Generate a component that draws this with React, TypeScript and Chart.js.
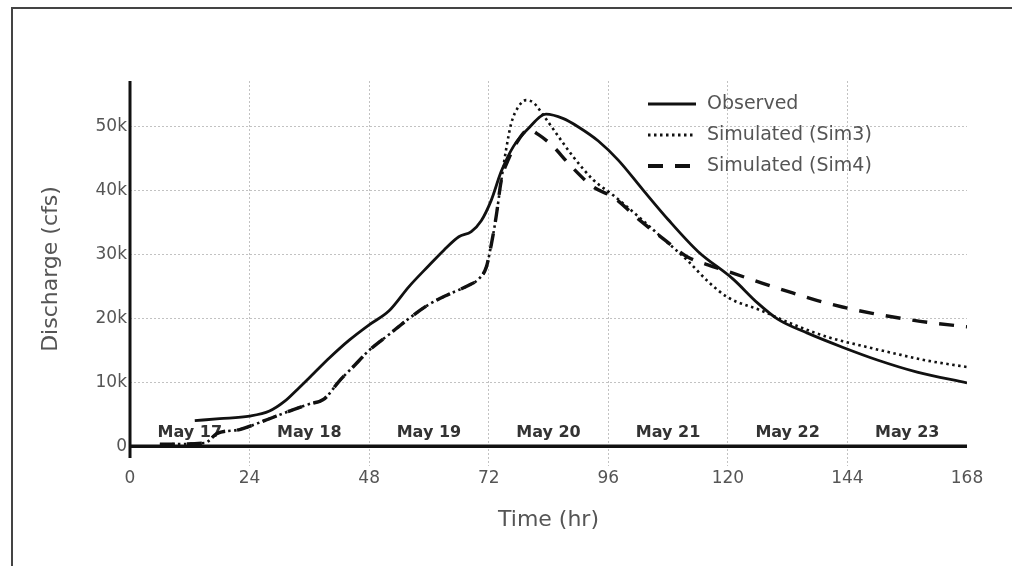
import React, { useEffect, useRef } from "react";
import { Chart, registerables } from "chart.js";

Chart.register(...registerables);

const FONT = "'DejaVu Sans', Verdana, sans-serif";

const xTicks = [0, 24, 48, 72, 96, 120, 144, 168];
const yTicks = [0, 10000, 20000, 30000, 40000, 50000];
const dayLabels = ["May 17", "May 18", "May 19", "May 20", "May 21", "May 22", "May 23"];
const dayCenters = [12, 36, 60, 84, 108, 132, 156];

const seriesNames = ["Observed", "Simulated (Sim3)", "Simulated (Sim4)"];

const obsTime = [13, 18, 24, 28, 31, 34, 37, 40, 44, 48, 52, 56, 60, 63, 66, 68.5, 70.5, 72.5, 74.5, 77, 80, 83.5, 87, 90, 94, 98, 103, 108, 114, 121, 126, 130, 136, 143, 150, 158, 168];
const obsFlow = [4000, 4300, 4700, 5500, 7000, 9200, 11500, 13800, 16600, 19000, 21200, 25000, 28300, 30700, 32800, 33600, 35300, 38500, 43000, 47000, 49800, 52000, 51300, 50000, 47800, 44800, 40100, 35500, 30500, 26200, 22400, 19900, 17700, 15500, 13500, 11600, 9900];

const sim3Time = [6, 15, 17.5, 22, 27, 32, 36, 39, 42, 45, 48, 52, 56, 60, 64, 68, 70, 71.5, 72.5, 73.5, 74.5, 75.5, 76.5, 78, 79.5, 81, 83, 86, 89, 93, 97, 102, 107, 112, 116, 120, 126.5, 133, 140, 147, 153, 160, 168];
const sim3Flow = [300, 500, 2000, 2600, 4000, 5500, 6600, 7400, 10200, 12600, 15000, 17500, 20000, 22200, 23800, 25200, 26200, 28000, 31500, 36000, 41500, 46500, 50500, 53200, 54200, 53800, 51800, 48500, 45300, 41700, 39300, 36000, 32500, 29000, 25800, 23300, 21300, 19100, 17100, 15700, 14600, 13400, 12400];

const sim4Time = [6, 15, 17.5, 22, 27, 32, 36, 39, 42, 45, 48, 52, 56, 60, 64, 68, 70, 71.5, 72.5, 73.5, 74.5, 76, 78, 80, 82, 85, 88, 93, 97, 102, 107, 112, 116, 121, 127, 133, 138, 143, 149, 155, 161, 168];
const sim4Flow = [300, 500, 2000, 2600, 4000, 5500, 6600, 7400, 10200, 12600, 15000, 17500, 20000, 22200, 23800, 25200, 26200, 28000, 31500, 36000, 41500, 45000, 48000, 49600, 48800, 46900, 44300, 40600, 39000, 35600, 32500, 29600, 28400, 27100, 25500, 24000, 22800, 21800, 20800, 20000, 19300, 18700];

const toPoints = (t: number[], v: number[]) => t.map((x, i) => ({ x, y: v[i] }));

const lineStyles = [
  { width: 2.8, dash: [] as number[] },
  { width: 2.6, dash: [2.5, 3.5] },
  { width: 3.4, dash: [15, 12] },
];

const decorPlugin = {
  id: "decor",
  beforeDatasetsDraw(chart: any) {
    const { ctx, chartArea, scales } = chart;
    const x = scales.x;
    const y = scales.y;
    const y0 = y.getPixelForValue(0);
    ctx.save();
    ctx.font = `bold 16px ${FONT}`;
    ctx.fillStyle = "#333";
    ctx.textAlign = "center";
    ctx.textBaseline = "middle";
    dayLabels.forEach((lab, i) => {
      ctx.fillText(lab, x.getPixelForValue(dayCenters[i]), y0 - 13);
    });
    ctx.strokeStyle = "#111";
    ctx.lineWidth = 3.5;
    ctx.setLineDash([]);
    ctx.beginPath();
    ctx.moveTo(chartArea.left, y0);
    ctx.lineTo(chartArea.right, y0);
    ctx.stroke();
    ctx.lineWidth = 3;
    ctx.beginPath();
    ctx.moveTo(chartArea.left, chartArea.top);
    ctx.lineTo(chartArea.left, chartArea.bottom + 1);
    ctx.stroke();
    ctx.restore();
  },
  afterDraw(chart: any) {
    const { ctx, chartArea } = chart;
    const x0 = chartArea.right - 319;
    const y0 = chartArea.top + 23;
    ctx.save();
    ctx.font = `19px ${FONT}`;
    ctx.textAlign = "left";
    ctx.textBaseline = "middle";
    seriesNames.forEach((name, i) => {
      const yy = y0 + i * 31;
      const st = lineStyles[i];
      ctx.strokeStyle = "#111";
      ctx.lineWidth = st.width + 0.4;
      ctx.setLineDash(st.dash);
      ctx.beginPath();
      ctx.moveTo(x0, yy);
      ctx.lineTo(x0 + 48, yy);
      ctx.stroke();
      ctx.setLineDash([]);
      ctx.fillStyle = "#555";
      ctx.fillText(name, x0 + 59, yy);
    });
    ctx.restore();
  },
};

export default function App() {
  const ref = useRef<HTMLCanvasElement | null>(null);

  useEffect(() => {
    document.body.style.margin = "0";
    const canvas = ref.current;
    if (!canvas) return;
    const datasets = [
      { label: seriesNames[0], data: toPoints(obsTime, obsFlow) },
      { label: seriesNames[1], data: toPoints(sim3Time, sim3Flow) },
      { label: seriesNames[2], data: toPoints(sim4Time, sim4Flow) },
    ].map((d, i) => ({
      ...d,
      borderColor: "#111",
      borderWidth: lineStyles[i].width,
      borderDash: lineStyles[i].dash,
      pointRadius: 0,
      fill: false,
      cubicInterpolationMode: "monotone" as const,
    }));

    const chart = new Chart(canvas, {
      type: "line",
      data: { datasets },
      plugins: [decorPlugin],
      options: {
        animation: false,
        responsive: false,
        layout: { padding: { top: 81, right: 45, bottom: 0, left: 0 } },
        plugins: { legend: { display: false }, tooltip: { enabled: false } },
        scales: {
          x: {
            type: "linear",
            min: 0,
            max: 168,
            afterBuildTicks: (s: any) => {
              s.ticks = xTicks.map((value) => ({ value }));
            },
            afterFit: (s: any) => {
              s.height = 109;
            },
            border: { display: false, dash: [2, 2] },
            grid: {
              color: (c: any) => (c.tick && (c.tick.value === 0 || c.tick.value === 168) ? "rgba(0,0,0,0)" : "#c2c2c2"),
              tickColor: (c: any) => (c.tick && (c.tick.value === 0 || c.tick.value === 168) ? "rgba(0,0,0,0)" : "#c2c2c2"),
              lineWidth: 1,
              drawTicks: true,
              tickLength: 9,
              tickBorderDash: [2, 2],
            },
            ticks: {
              color: "#555",
              font: { family: FONT, size: 17 },
              padding: 2,
              maxRotation: 0,
            },
            title: {
              display: true,
              text: "Time (hr)",
              color: "#555",
              font: { family: FONT, size: 22 },
              padding: { top: 0, bottom: 33 },
            },
          },
          y: {
            type: "linear",
            min: -1700,
            max: 57200,
            afterBuildTicks: (s: any) => {
              s.ticks = yTicks.map((value) => ({ value }));
            },
            afterFit: (s: any) => {
              s.width = 130;
            },
            border: { display: false, dash: [2, 2] },
            grid: {
              color: (c: any) => (c.tick && c.tick.value === 0 ? "rgba(0,0,0,0)" : "#c2c2c2"),
              lineWidth: 1,
              drawTicks: false,
            },
            ticks: {
              color: "#555",
              font: { family: FONT, size: 17 },
              padding: 3,
              callback: (v: any) => (v === 0 ? "0" : `${v / 1000}k`),
            },
            title: {
              display: true,
              text: "Discharge (cfs)",
              color: "#555",
              font: { family: FONT, size: 22 },
              padding: { top: 38, bottom: 0 },
            },
          },
        },
      },
    });
    return () => chart.destroy();
  }, []);

  return (
    <div style={{ position: "fixed", left: 0, top: 0, width: 1012, height: 566, background: "#fff" }}>
      <canvas ref={ref} width={1012} height={566} style={{ position: "absolute", left: 0, top: 0 }} />
      <div
        style={{
          position: "absolute",
          left: 11,
          top: 7,
          width: 1001,
          height: 559,
          boxSizing: "border-box",
          borderTop: "2px solid #444",
          borderLeft: "2px solid #444",
          pointerEvents: "none",
        }}
      />
    </div>
  );
}
